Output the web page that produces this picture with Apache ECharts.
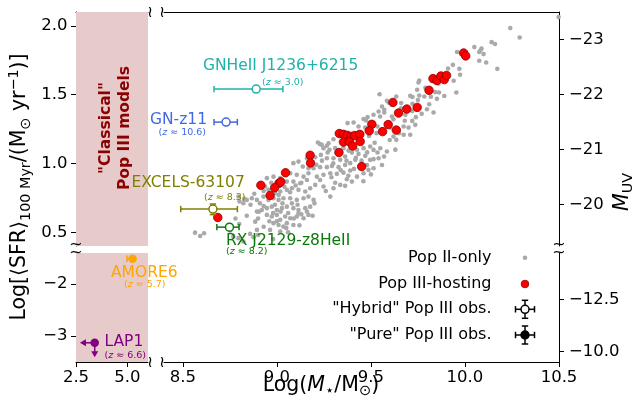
<!DOCTYPE html>
<html><head><meta charset="utf-8">
<script src="https://cdn.jsdelivr.net/npm/echarts@6/dist/echarts.min.js"></script>
<style>html,body{margin:0;padding:0;background:#fff}#c{width:636px;height:407px}</style>
</head><body><div id="c"></div><script>
// ---------------- DATA ----------------
const popII = [
[10.241,1.983],[10.291,1.915],[10.142,1.881],[10.160,1.867],[10.088,1.835],[10.082,1.820],[10.076,1.809],[10.050,1.845],[10.099,1.794],[10.076,1.746],[10.113,1.733],[9.958,1.809],[10.172,1.687],[9.936,1.716],[9.970,1.687],[9.974,1.644],[9.757,1.602],[9.753,1.588],[9.746,1.535],[9.842,1.518],[9.862,1.515],[9.851,1.469],[9.819,1.484],[9.784,1.486],[9.757,1.493],[9.709,1.491],[9.721,1.482],[9.954,1.515],[9.798,1.394],[9.833,1.370],[9.661,1.438],[9.721,1.433],[9.739,1.336],[9.720,1.309],[10.498,2.063],
[9.546,1.503],[9.635,1.486],[9.559,1.413],[9.594,1.442],[9.541,1.377],[9.571,1.370],[9.612,1.341],[9.683,1.353],[9.482,1.336],[9.514,1.353],[9.461,1.322],[9.408,1.297],[9.376,1.293],[9.434,1.268],[9.470,1.261],[9.535,1.268],[9.603,1.261],[9.674,1.268],[9.736,1.280],[9.301,1.176],[9.275,1.147],[9.239,1.135],[9.218,1.152],[9.248,1.111],[9.280,1.099],[9.310,1.111],[9.354,1.111],[9.381,1.093],[9.426,1.099],[9.461,1.111],[9.496,1.123],[9.535,1.079],[9.585,1.086],[9.635,1.171],[9.674,1.208],[9.709,1.208],[9.620,1.195],[9.541,1.038],[9.496,1.026],[9.470,1.055],[9.434,1.069],[9.399,1.079],[9.363,1.050],[9.337,1.026],[9.301,1.038],[9.266,1.038],[9.234,1.062],[9.204,1.045],[9.160,1.038],[9.195,0.965],[9.230,0.973],[9.266,0.973],[9.293,0.982],[9.328,0.973],[9.363,0.989],[9.390,1.002],[9.417,1.026],[9.443,0.973],[9.479,0.989],[9.514,0.965],[9.390,0.948],[9.354,0.933],[9.319,0.924],[9.284,0.929],[9.248,0.917],[9.213,0.904],[9.204,0.844],[9.248,0.832],[9.301,0.820],[9.372,0.885],[9.399,0.868],[9.363,0.837],[9.426,0.904],[9.487,0.953],[9.514,1.031],[9.559,0.989],
[9.088,1.002],[9.115,1.013],[9.138,0.977],[9.168,0.965],[9.071,0.929],[9.106,0.917],[9.142,0.904],[9.168,0.929],[8.947,0.893],[8.982,0.904],[9.018,0.893],[9.053,0.868],[9.088,0.868],[9.124,0.856],[8.938,0.832],[8.955,0.808],[8.991,0.784],[9.018,0.796],[9.053,0.808],[9.080,0.820],[9.115,0.808],[9.151,0.796],[9.177,0.820],[8.840,0.735],[8.867,0.747],[8.894,0.735],[8.929,0.759],[8.955,0.735],[8.982,0.747],[9.009,0.735],[9.035,0.747],[9.071,0.747],[9.106,0.735],[9.142,0.747],[9.168,0.759],[8.822,0.711],[8.801,0.723],[8.894,0.650],[8.920,0.662],[8.947,0.675],[8.973,0.686],[9.000,0.662],[9.027,0.675],[9.053,0.686],[9.088,0.675],[9.115,0.662],[9.151,0.675],[9.177,0.686],[8.947,0.626],[8.973,0.614],[9.000,0.626],[9.018,0.590],[9.044,0.614],[9.071,0.602],[9.106,0.614],[9.142,0.602],[9.168,0.626],[8.982,0.566],[9.009,0.553],[9.035,0.541],[9.053,0.566],[9.088,0.553],[8.964,0.517],[9.018,0.505],[8.894,0.517],[8.565,0.497],[8.592,0.473],[8.613,0.493],[8.769,0.468],[8.796,0.457],[8.822,0.432],[8.858,0.488],[8.876,0.464],[8.752,0.512],
[9.284,0.759],[9.195,0.735],[9.337,0.844],[9.461,0.929],[9.514,1.098],[9.230,1.140],[9.266,1.128],[9.475,1.312],[9.549,1.341],[9.571,1.389],[9.585,1.455],[8.826,0.742],[8.796,0.759],[8.885,0.577],[8.906,0.650],[9.160,0.650],[9.115,0.638],
[8.86,0.70],[8.88,0.78],[8.90,0.60],[8.91,0.71],[8.93,0.69],[8.93,0.80],[8.96,0.58],[8.97,0.86],[8.98,0.64],[8.99,0.70],[9.00,0.58],[9.01,0.77],[9.02,0.65],[9.03,0.71],[9.04,0.83],[9.05,0.53],[9.06,0.64],[9.07,0.79],[9.08,0.71],[9.09,0.60],[9.10,0.84],[9.11,0.70],[9.13,0.86],[9.13,0.63],[9.16,0.88],[9.19,0.62],[8.84,0.62],[8.80,0.56],[8.78,0.60],[8.90,0.48],[8.93,0.54],[8.98,0.45],[9.06,0.50],[9.12,0.55],[9.20,0.71],
[9.21,0.99],[9.23,0.88],[9.24,1.02],[9.26,0.80],[9.27,1.08],[9.29,0.90],[9.30,1.00],[9.31,0.86],[9.33,1.09],[9.34,0.95],[9.35,1.16],[9.37,1.02],[9.38,0.91],[9.40,1.13],[9.41,0.96],[9.42,1.04],[9.44,1.17],[9.45,1.02],[9.46,0.87],[9.48,1.08],[9.49,1.20],[9.50,0.92],[9.52,1.15],[9.53,1.22],[9.55,1.11],[9.57,1.05],[9.58,1.29],[9.60,1.17],[9.62,1.32],[9.63,1.10],[9.65,1.22],[9.66,1.40],[9.68,1.31],[9.70,1.26],[9.72,1.38],[9.75,1.46],[9.77,1.36],[9.79,1.55],[9.81,1.43],[9.86,1.58],[9.89,1.49],[9.91,1.69],[9.94,1.60]
];
const popIII = [
[9.993,1.802],[10.004,1.781],[9.830,1.616],[9.851,1.602],[9.872,1.635],[9.890,1.609],[9.902,1.639],[9.809,1.531],[9.617,1.443],[9.691,1.395],[9.746,1.407],[9.647,1.366],[9.505,1.284],[9.592,1.282],[9.491,1.237],[9.562,1.231],[9.635,1.242],[9.332,1.217],[9.354,1.211],[9.374,1.204],[9.395,1.196],[9.414,1.202],[9.441,1.211],[9.354,1.155],[9.385,1.157],[9.403,1.126],[9.443,1.159],[9.330,1.079],[9.177,1.059],[9.179,1.003],[9.451,0.977],[9.046,0.932],[8.915,0.841],[9.011,0.855],[9.021,0.866],[8.988,0.823],[8.964,0.767],[8.686,0.607]
];
// hybrid observations: name, redshift, mass, mass low/high, SFR, SFR low/high
const hybNames = ['GNHeII J1236+6215','GN-z11','EXCELS-63107','RX J2129-z8HeII'];
const hybZ = ['3.0','10.6','8.3','8.2'];
const hybMass = [8.89, 8.73, 8.66, 8.748];
const hybMassLo = [8.666, 8.666, 8.489, 8.681];
const hybMassHi = [9.032, 8.79, 8.79, 8.799];
const hybSFR = [1.54, 1.30, 0.668, 0.537];
const hybSFRLo = [1.54, 1.30, 0.628, 0.537];
const hybSFRHi = [1.54, 1.30, 0.705, 0.537];
const hybColors = ['#20b2aa', '#4169e1', '#808000', '#0b7a0b'];
// pure observations
const pureNames = ['AMORE6', 'LAP1'];
const pureZ = ['5.7', '6.6'];
const pureMass = [5.25, 3.41];
const pureMassLo = [4.98, 2.69];  // AMORE6 error / LAP1 upper limit
const pureSFR = [-1.51, -3.13];
const pureSFRLo = [-1.51, -3.41]; // LAP1 upper limit
const pureColors = ['#ffa500', '#800080'];
// axes
const xTicksLeft = [2.5, 5.0];
const xTicksRight = [8.5, 9.0, 9.5, 10.0, 10.5];
const yTicksTop = [0.5, 1.0, 1.5, 2.0];
const yTicksBottom = [-3, -2];
const muvTicksTop = [-23, -22, -21, -20];
const muvTicksBottom = [-12.5, -10.0];
const classicalRange = [2.5, 6.0];

// ---------------- CHART ----------------
const FF = 'DejaVu Sans';
const chart = echarts.init(document.getElementById('c'), null, {renderer: 'canvas'});
const sfrToMuv = s => -(s + 7.30) / 0.4;
const minus = s => s.replace('-', '\u2212');
const G = [
  {left: 76, top: 12, width: 72, height: 234},
  {left: 164, top: 12, width: 395, height: 234},
  {left: 76, top: 253, width: 72, height: 109},
  {left: 164, top: 253, width: 395, height: 109}
];
const lineSt = {color: '#000', width: 1};
const tickLab = {fontFamily: FF, fontSize: 16.5, color: '#000'};
function xAx(grid, min, max, pos, ticks) {
  const o = {type: 'value', gridIndex: grid, min, max, position: pos, splitLine: {show: false},
    axisLine: {show: true, onZero: false, lineStyle: lineSt}};
  if (ticks) {
    o.axisTick = {show: true, customValues: ticks, length: 5, lineStyle: lineSt};
    o.axisLabel = Object.assign({show: true, customValues: ticks, margin: 7, formatter: v => v.toFixed(1)}, tickLab);
  } else { o.axisTick = {show: false}; o.axisLabel = {show: false}; }
  return o;
}
function yAx(grid, min, max, pos, ticks, fmt, show, inverse) {
  const o = {type: 'value', gridIndex: grid, min, max, position: pos, inverse: !!inverse, splitLine: {show: false},
    axisLine: {show: !!show, onZero: false, lineStyle: lineSt}};
  if (ticks) {
    o.axisTick = {show: true, customValues: ticks, length: 5, lineStyle: lineSt};
    o.axisLabel = Object.assign({show: true, customValues: ticks, margin: pos === 'left' ? 8.5 : 10, formatter: v => minus(fmt(v))}, tickLab);
  } else { o.axisTick = {show: false}; o.axisLabel = {show: false}; }
  return o;
}
const xAxis = [
  xAx(0, classicalRange[0], classicalRange[1], 'top', null),
  xAx(1, 8.4, 10.5, 'top', null),
  xAx(2, classicalRange[0], classicalRange[1], 'bottom', xTicksLeft),
  xAx(3, 8.4, 10.5, 'bottom', xTicksRight)
];
const yAxis = [
  yAx(0, 0.4, 2.1, 'left', yTicksTop, v => v.toFixed(1), true),
  yAx(2, -3.5, -1.4, 'left', yTicksBottom, v => v.toFixed(0), true),
  yAx(1, 0.4, 2.1, 'left', null, null, false),
  yAx(3, -3.5, -1.4, 'left', null, null, false),
  yAx(1, sfrToMuv(2.1), sfrToMuv(0.4), 'right', muvTicksTop, v => v.toFixed(0), true, true),
  yAx(3, sfrToMuv(-1.4), sfrToMuv(-3.5), 'right', muvTicksBottom, v => v.toFixed(1), true, true)
];

function rectRender(params, api) {
  const p0 = api.coord([api.value(0), api.value(3)]);
  const p1 = api.coord([api.value(1), api.value(2)]);
  return {type: 'rect', shape: {x: p0[0], y: p0[1], width: p1[0] - p0[0], height: p1[1] - p0[1]}, style: {fill: '#e7caca'}};
}
function errRender(params, api) {
  const x = api.value(0), y = api.value(1), xl = api.value(2), xh = api.value(3), yl = api.value(4), yh = api.value(5);
  const c = api.visual('color');
  const st = {stroke: c, lineWidth: 1.5};
  const p = api.coord([x, y]), pl = api.coord([xl, y]), ph = api.coord([xh, y]);
  const cap = 3.2, ch = [];
  ch.push({type: 'line', shape: {x1: pl[0], y1: p[1], x2: ph[0], y2: p[1]}, style: st});
  ch.push({type: 'line', shape: {x1: pl[0], y1: p[1] - cap, x2: pl[0], y2: p[1] + cap}, style: st});
  if (xh !== x) ch.push({type: 'line', shape: {x1: ph[0], y1: p[1] - cap, x2: ph[0], y2: p[1] + cap}, style: st});
  if (yl !== yh) {
    const a = api.coord([x, yl]), b = api.coord([x, yh]);
    ch.push({type: 'line', shape: {x1: p[0], y1: a[1], x2: p[0], y2: b[1]}, style: st});
    ch.push({type: 'line', shape: {x1: p[0] - cap, y1: a[1], x2: p[0] + cap, y2: a[1]}, style: st});
    ch.push({type: 'line', shape: {x1: p[0] - cap, y1: b[1], x2: p[0] + cap, y2: b[1]}, style: st});
  }
  return {type: 'group', children: ch};
}
function limitRender(params, api) {
  const x = api.value(0), y = api.value(1), xl = api.value(2), yl = api.value(3);
  const c = api.visual('color');
  const st = {stroke: c, lineWidth: 1.5};
  const p = api.coord([x, y]), a = api.coord([xl, y]), b = api.coord([x, yl]);
  return {type: 'group', children: [
    {type: 'line', shape: {x1: p[0], y1: p[1], x2: a[0] + 4, y2: p[1]}, style: st},
    {type: 'polygon', shape: {points: [[a[0], p[1]], [a[0] + 6, p[1] - 3.5], [a[0] + 6, p[1] + 3.5]]}, style: {fill: c}},
    {type: 'line', shape: {x1: p[0], y1: p[1], x2: p[0], y2: b[1] - 4}, style: st},
    {type: 'polygon', shape: {points: [[p[0], b[1]], [p[0] - 3.5, b[1] - 6], [p[0] + 3.5, b[1] - 6]]}, style: {fill: c}}
  ]};
}

const series = [
  {type: 'custom', xAxisIndex: 0, yAxisIndex: 0, renderItem: rectRender, data: [[classicalRange[0], classicalRange[1], 0.4, 2.1]], silent: true, z: 1},
  {type: 'custom', xAxisIndex: 2, yAxisIndex: 1, renderItem: rectRender, data: [[classicalRange[0], classicalRange[1], -3.5, -1.4]], silent: true, z: 1},
  {type: 'scatter', xAxisIndex: 1, yAxisIndex: 2, data: popII, symbolSize: 4.6, itemStyle: {color: '#a9a9a9', opacity: 1}, z: 2},
  {type: 'scatter', xAxisIndex: 1, yAxisIndex: 2, data: popIII, symbolSize: 8.5, itemStyle: {color: '#ff0000', borderColor: '#8b0000', borderWidth: 0.8, opacity: 1}, z: 3},
  {type: 'custom', xAxisIndex: 1, yAxisIndex: 2, renderItem: errRender, z: 4,
    data: hybMass.map((m, i) => ({value: [m, hybSFR[i], hybMassLo[i], hybMassHi[i], hybSFRLo[i], hybSFRHi[i]], itemStyle: {color: hybColors[i]}}))},
  {type: 'scatter', xAxisIndex: 1, yAxisIndex: 2, symbolSize: 8, z: 5,
    data: hybMass.map((m, i) => ({value: [m, hybSFR[i]], itemStyle: {color: '#fff', borderColor: hybColors[i], borderWidth: 1.5, opacity: 1}}))},
  {type: 'custom', xAxisIndex: 2, yAxisIndex: 1, renderItem: errRender, z: 4,
    data: [{value: [pureMass[0], pureSFR[0], pureMassLo[0], pureMass[0], pureSFR[0], pureSFR[0]], itemStyle: {color: pureColors[0]}}]},
  {type: 'custom', xAxisIndex: 2, yAxisIndex: 1, renderItem: limitRender, z: 4,
    data: [{value: [pureMass[1], pureSFR[1], pureMassLo[1], pureSFRLo[1]], itemStyle: {color: pureColors[1]}}]},
  {type: 'scatter', xAxisIndex: 2, yAxisIndex: 1, symbolSize: 8.5, z: 5,
    data: pureMass.map((m, i) => ({value: [m, pureSFR[i]], itemStyle: {color: pureColors[i], opacity: 1}}))}
];

// ---------------- TEXT / DECOR ----------------
const gfx = [];
function txt(x, y, text, o) {
  const st = Object.assign({text, x: 0, y: 0, fill: '#000', fontFamily: FF, fontSize: 15.5,
    align: 'left', textAlign: 'left', verticalAlign: 'middle', textVerticalAlign: 'middle'}, o || {});
  if (st.align) st.textAlign = st.align;
  if (st.verticalAlign) st.textVerticalAlign = st.verticalAlign;
  const el = {type: 'text', x, y, style: st, z: 100};
  if (o && o.rot) { el.rotation = o.rot; delete st.rot; }
  gfx.push(el);
}
const zRich = c => ({i: {fontStyle: 'italic', fontFamily: FF, fontSize: 9.5, fill: c}, n: {fontFamily: FF, fontSize: 9.5, fill: c}});
function zLabel(x, y, z, c, align) {
  txt(x, y, '{n|(}{i|z}{n| \u2248 ' + z + ')}', {fill: c, fontSize: 9.5, rich: zRich(c), align: align || 'left'});
}
// hybrid labels
txt(203, 66, hybNames[0], {fill: hybColors[0]}); zLabel(262, 82.5, hybZ[0], hybColors[0]);
txt(207, 119.5, hybNames[1], {fill: hybColors[1], align: 'right'}); zLabel(206, 132.5, hybZ[1], hybColors[1], 'right');
txt(131.5, 183, hybNames[2], {fill: hybColors[2]}); zLabel(204, 198, hybZ[2], hybColors[2]);
txt(226, 241, hybNames[3], {fill: hybColors[3]}); zLabel(226, 252, hybZ[3], hybColors[3]);
// pure labels
txt(111, 273, pureNames[0], {fill: pureColors[0]}); zLabel(124, 284.5, pureZ[0], pureColors[0]);
txt(104.5, 341.5, pureNames[1], {fill: pureColors[1]}); zLabel(104.5, 356, pureZ[1], pureColors[1]);
// classical models text
txt(115, 128, '"Classical"\nPop III models', {fill: '#8b0000', fontWeight: 'bold', fontSize: 15.5, align: 'center', lineHeight: 19, rot: Math.PI / 2});
// axis titles
const TF = 20.5;
txt(321, 386, '{n|Log(}{i|M}{s|\u22c6}{n|/M}{s|\u2299}{n|)}', {align: 'center', rich: {
  n: {fontFamily: FF, fontSize: TF, lineHeight: 26, verticalAlign: 'middle'},
  i: {fontFamily: FF, fontSize: TF, fontStyle: 'italic', lineHeight: 26, verticalAlign: 'middle'},
  s: {fontFamily: FF, fontSize: TF * 0.72, lineHeight: 26, verticalAlign: 'bottom'}}});
txt(20, 187, '{n|Log[\u27e8SFR\u27e9}{s|100 Myr}{n|/(M}{s|\u2299}{n| yr}{p|\u22121}{n|)]}', {align: 'center', rot: Math.PI / 2, rich: {
  n: {fontFamily: FF, fontSize: TF, lineHeight: 26, verticalAlign: 'middle'},
  s: {fontFamily: FF, fontSize: TF * 0.7, lineHeight: 26, verticalAlign: 'bottom'},
  p: {fontFamily: FF, fontSize: TF * 0.7, lineHeight: 26, verticalAlign: 'top'}}});
txt(623, 192, '{i|M}{s|UV}', {align: 'center', rot: Math.PI / 2, rich: {
  i: {fontFamily: FF, fontSize: TF, fontStyle: 'italic', lineHeight: 24, verticalAlign: 'middle'},
  s: {fontFamily: FF, fontSize: TF * 0.7, lineHeight: 24, verticalAlign: 'bottom'}}});
// legend
const legNames = ['Pop II-only', 'Pop III-hosting', '"Hybrid" Pop III obs.', '"Pure" Pop III obs.'];
const legY = [257.7, 284, 309.3, 335];
legNames.forEach((n, i) => txt(491.5, legY[i], n, {align: 'right', fontSize: 16}));
gfx.push({type: 'circle', shape: {cx: 525, cy: legY[0], r: 2.3}, style: {fill: '#a9a9a9'}, z: 100});
gfx.push({type: 'circle', shape: {cx: 525, cy: legY[1], r: 3.8}, style: {fill: '#ff0000', stroke: '#8b0000', lineWidth: 0.8}, z: 100});
[2, 3].forEach(i => {
  const cy = legY[i], st = {stroke: '#000', lineWidth: 1.5};
  [[515.5, cy, 534.5, cy], [515.5, cy - 3.2, 515.5, cy + 3.2], [534.5, cy - 3.2, 534.5, cy + 3.2],
   [525, cy - 9, 525, cy + 9], [521.8, cy - 9, 528.2, cy - 9], [521.8, cy + 9, 528.2, cy + 9]].forEach(l =>
    gfx.push({type: 'line', shape: {x1: l[0], y1: l[1], x2: l[2], y2: l[3]}, style: st, z: 100}));
  gfx.push({type: 'circle', shape: {cx: 525, cy, r: 4}, style: {fill: i === 2 ? '#fff' : '#000', stroke: '#000', lineWidth: 1.5}, z: 101});
});
// break marks
[[151, 12], [163, 12], [151, 362], [163, 362]].forEach(p => txt(p[0], p[1], '~', {align: 'center', fontSize: 16, rot: Math.PI / 2}));
[[76, 245], [76, 253], [559, 245], [559, 253]].forEach(p => txt(p[0], p[1], '~', {align: 'center', fontSize: 16}));

chart.setOption({
  animation: false,
  backgroundColor: '#fff',
  grid: G.map(g => Object.assign({containLabel: false}, g)),
  xAxis, yAxis, series, graphic: {elements: gfx}
});
</script></body></html>
